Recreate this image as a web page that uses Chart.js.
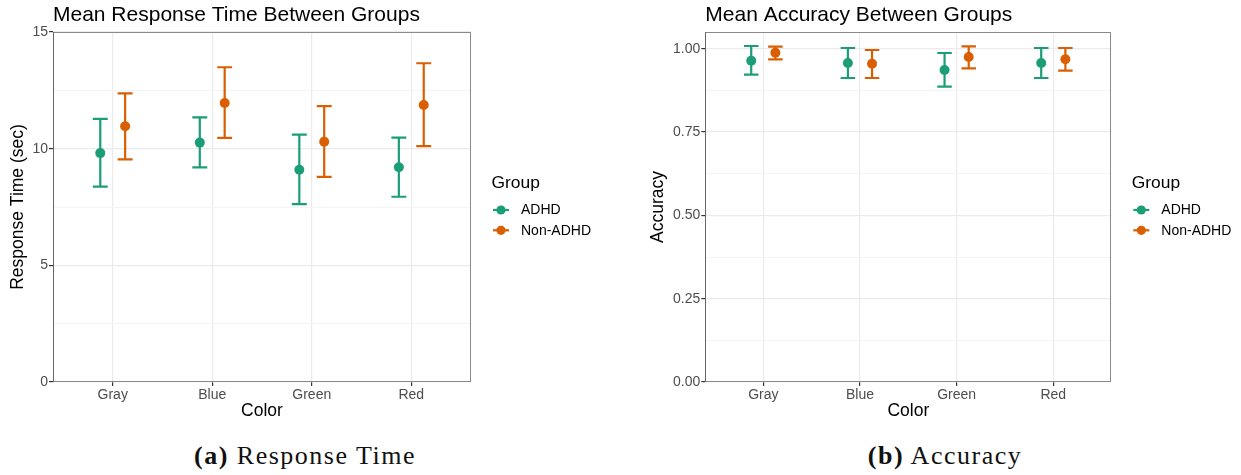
<!DOCTYPE html>
<html>
<head>
<meta charset="utf-8">
<script src="https://cdn.jsdelivr.net/npm/chart.js@4/dist/chart.umd.min.js"></script>
<style>
  html, body { margin: 0; padding: 0; background: #fff; }
  body { width: 1241px; height: 475px; position: relative; overflow: hidden; }
  .panel { position: absolute; top: 0; height: 430px; }
  #wrapA { left: 0; width: 620px; }
  #wrapB { left: 620px; width: 621px; }
  .caption {
    position: absolute; top: 440px; width: 400px; text-align: center;
    font-family: "Liberation Serif", serif; font-size: 26px; letter-spacing: 1.5px;
    color: #111; line-height: 32px;
  }
  .caption b { font-weight: bold; }
  #capA { left: 105px; }
  #capB { left: 745px; }
</style>
</head>
<body>
<div class="panel" id="wrapA"><canvas id="chartA" width="620" height="430"></canvas></div>
<div class="panel" id="wrapB"><canvas id="chartB" width="621" height="430"></canvas></div>
<div class="caption" id="capA"><b>(a)</b> Response Time</div>
<div class="caption" id="capB"><b>(b)</b> Accuracy</div>
<script>
// ---- data ----
const categories = ['Gray', 'Blue', 'Green', 'Red'];
const groups = ['ADHD', 'Non-ADHD'];
const groupColors = ['#1B9E77', '#D95F02'];

// response time (sec): mean and error-bar limits per colour
const rtAdhdMean = [9.81, 10.26, 9.10, 9.20];
const rtAdhdLow  = [8.37, 9.20, 7.62, 7.94];
const rtAdhdHigh = [11.28, 11.34, 10.60, 10.47];
const rtNonMean  = [10.96, 11.96, 10.30, 11.87];
const rtNonLow   = [9.54, 10.46, 8.79, 10.11];
const rtNonHigh  = [12.37, 13.49, 11.82, 13.66];

// accuracy: mean and error-bar limits per colour
const accAdhdMean = [0.964, 0.957, 0.936, 0.957];
const accAdhdLow  = [0.922, 0.912, 0.886, 0.912];
const accAdhdHigh = [1.008, 1.002, 0.987, 1.002];
const accNonMean  = [0.988, 0.955, 0.975, 0.968];
const accNonLow   = [0.968, 0.912, 0.941, 0.934];
const accNonHigh  = [1.006, 0.996, 1.007, 1.002];

// axis ticks
const rtTicks = [0, 5, 10, 15];
const rtTickLabels = ['0', '5', '10', '15'];
const accTicks = [0, 0.25, 0.5, 0.75, 1];
const accTickLabels = ['0.00', '0.25', '0.50', '0.75', '1.00'];

// ---- shared styling ----
const FONT = '"Liberation Sans", Arial, sans-serif';
const DODGE = 0.125;     // horizontal offset of each group within a category
const CAP = 0.075;       // half-width of the error-bar caps (x units)

function makeDatasets(means, lows, highs) {
  return groups.map((g, gi) => ({
    label: g,
    data: categories.map((c, i) => ({
      x: i + 1 + (gi === 0 ? -DODGE : DODGE),
      y: means[gi][i],
      lo: lows[gi][i],
      hi: highs[gi][i]
    })),
    backgroundColor: groupColors[gi],
    borderColor: groupColors[gi],
    pointRadius: 5,
    pointHoverRadius: 5,
    borderWidth: 0,
    showLine: false
  }));
}

// vertical error bars with caps, drawn under the points
const errorBars = {
  id: 'errorBars',
  beforeDatasetsDraw(chart) {
    const { ctx, scales: { x, y } } = chart;
    ctx.save();
    ctx.lineWidth = 2.2;
    chart.data.datasets.forEach(ds => {
      ctx.strokeStyle = ds.borderColor;
      ds.data.forEach(p => {
        const px = x.getPixelForValue(p.x);
        const l = x.getPixelForValue(p.x - CAP);
        const r = x.getPixelForValue(p.x + CAP);
        const yl = y.getPixelForValue(p.lo);
        const yh = y.getPixelForValue(p.hi);
        ctx.beginPath();
        ctx.moveTo(px, yl); ctx.lineTo(px, yh);
        ctx.moveTo(l, yl); ctx.lineTo(r, yl);
        ctx.moveTo(l, yh); ctx.lineTo(r, yh);
        ctx.stroke();
      });
    });
    ctx.restore();
  }
};

// panel border, title and group legend
const frame = {
  id: 'frame',
  afterDraw(chart, args, opts) {
    const { ctx, chartArea: a } = chart;
    ctx.save();
    ctx.lineWidth = 1;
    ctx.strokeStyle = '#8a8a8a';
    ctx.strokeRect(Math.round(a.left) + 0.5, Math.round(a.top) + 0.5,
                   Math.round(a.right - a.left) - 1, Math.round(a.bottom - a.top) - 1);
    ctx.strokeStyle = '#666';
    ctx.beginPath();
    ctx.moveTo(Math.round(a.left) + 0.5, a.top);
    ctx.lineTo(Math.round(a.left) + 0.5, a.bottom);
    ctx.stroke();

    // title
    ctx.fillStyle = '#000';
    ctx.font = '21px ' + FONT;
    ctx.textBaseline = 'alphabetic';
    ctx.textAlign = 'left';
    ctx.fillText(opts.title, a.left, 21);

    // legend
    const lx = a.right + 20.5;
    ctx.font = '17.4px ' + FONT;
    ctx.textBaseline = 'middle';
    ctx.fillText('Group', lx, 183);
    ctx.font = '14px ' + FONT;
    chart.data.datasets.forEach((ds, i) => {
      const cy = 210 + i * 20.3;
      const cx = lx + 9.5;
      ctx.strokeStyle = ds.borderColor;
      ctx.fillStyle = ds.backgroundColor;
      ctx.lineWidth = 2.2;
      ctx.beginPath();
      ctx.moveTo(cx - 8, cy); ctx.lineTo(cx + 8, cy);
      ctx.stroke();
      ctx.beginPath();
      ctx.arc(cx, cy, 4.6, 0, Math.PI * 2);
      ctx.fill();
      ctx.fillStyle = '#000';
      ctx.fillText(ds.label, lx + 29.5, cy + 0.5);
    });
    ctx.restore();
  }
};

function buildChart(id, cfg) {
  const majors = cfg.ticks;
  const step = majors[1] - majors[0];
  const isMajor = v => majors.some(m => Math.abs(m - v) < 1e-6);
  return new Chart(document.getElementById(id), {
    type: 'scatter',
    data: { datasets: cfg.datasets },
    plugins: [errorBars, frame],
    options: {
      responsive: false,
      animation: false,
      events: [],
      layout: { padding: { top: 32, right: cfg.padRight, bottom: 0, left: 0 } },
      plugins: {
        legend: { display: false },
        tooltip: { enabled: false },
        frame: { title: cfg.title }
      },
      scales: {
        x: {
          type: 'linear',
          min: 0.4,
          max: 4.6,
          afterBuildTicks: s => { s.ticks = categories.map((c, i) => ({ value: i + 1 })); },
          afterFit: s => { s.height = 48; },
          ticks: {
            callback: v => categories[Math.round(v) - 1],
            color: '#4D4D4D',
            font: { family: FONT, size: 14 },
            padding: 1,
            maxRotation: 0,
            autoSkip: false
          },
          grid: {
            color: '#EBEBEB',
            lineWidth: 1.2,
            tickLength: 4,
            tickColor: '#333',
            tickWidth: 1.2
          },
          border: { display: false },
          title: {
            display: true,
            text: 'Color',
            color: '#000',
            font: { family: FONT, size: 17.5 },
            padding: { top: 8, bottom: 8 }
          }
        },
        y: {
          type: 'linear',
          min: 0,
          max: cfg.max,
          afterBuildTicks: s => {
            const t = [];
            for (let v = 0; v <= cfg.max + 1e-9; v += step / 2) t.push({ value: +v.toFixed(6) });
            s.ticks = t;
          },
          afterFit: s => { s.width = cfg.yWidth; },
          ticks: {
            callback: v => {
              const k = majors.findIndex(m => Math.abs(m - v) < 1e-6);
              return k >= 0 ? cfg.tickLabels[k] : '';
            },
            color: '#4D4D4D',
            font: { family: FONT, size: 14 },
            padding: 1,
            autoSkip: false
          },
          grid: {
            color: c => isMajor(c.tick.value) ? '#EBEBEB' : '#F4F4F4',
            lineWidth: c => isMajor(c.tick.value) ? 1.2 : 1,
            tickLength: 4,
            tickColor: c => isMajor(c.tick.value) ? '#333' : 'rgba(0,0,0,0)',
            tickWidth: 1.2
          },
          border: { display: false },
          title: {
            display: true,
            text: cfg.yTitle,
            color: '#000',
            font: { family: FONT, size: 17.5 },
            padding: { top: cfg.yTitlePad, bottom: cfg.yTitlePad }
          }
        }
      }
    }
  });
}

buildChart('chartA', {
  title: 'Mean Response Time Between Groups',
  yTitle: 'Response Time (sec)',
  datasets: makeDatasets([rtAdhdMean, rtNonMean], [rtAdhdLow, rtNonLow], [rtAdhdHigh, rtNonHigh]),
  ticks: rtTicks,
  tickLabels: rtTickLabels,
  max: 15,
  yWidth: 53,
  yTitlePad: 8,
  padRight: 149
});

buildChart('chartB', {
  title: 'Mean Accuracy Between Groups',
  yTitle: 'Accuracy',
  datasets: makeDatasets([accAdhdMean, accNonMean], [accAdhdLow, accNonLow], [accAdhdHigh, accNonHigh]),
  ticks: accTicks,
  tickLabels: accTickLabels,
  max: 1.05,
  yWidth: 85.3,
  yTitlePad: 28,
  padRight: 129.7
});
</script>
</body>
</html>
